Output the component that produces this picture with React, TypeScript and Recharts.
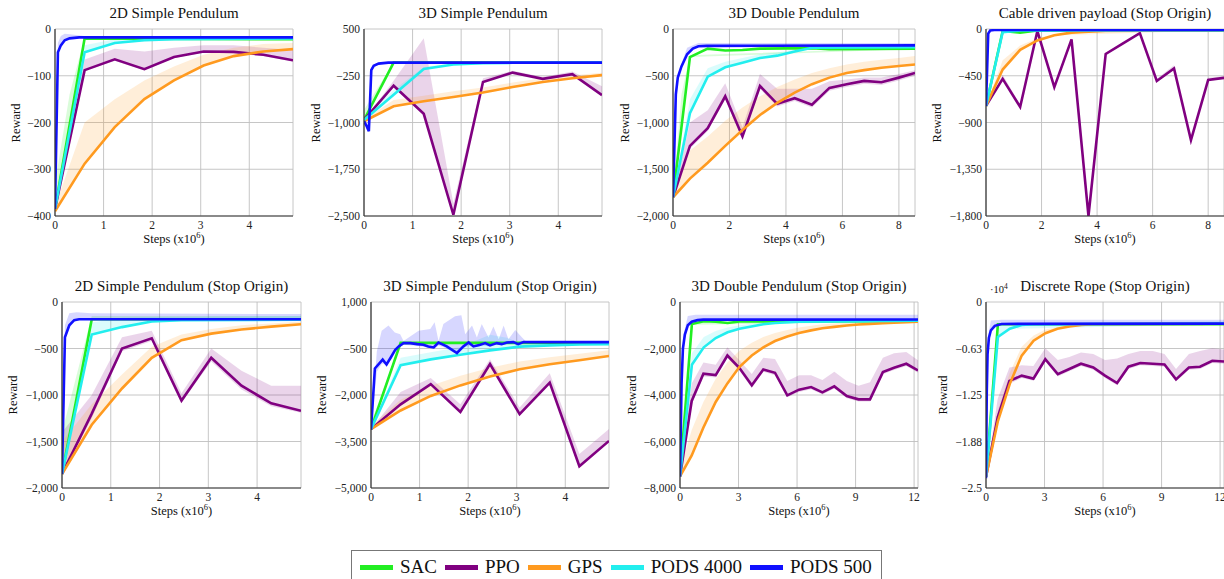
import React from "react";
import { ComposedChart, Line, Area, XAxis, YAxis, CartesianGrid } from "recharts";

type Pt = [number, number];
type Bd = [number, number, number];

const SERIES = ["SAC", "PPO", "GPS", "PODS 4000", "PODS 500"];
const COLORS = ["#22ee22", "#800080", "#ff9a1f", "#22eeee", "#1010ff"];
const FONT = "'Liberation Serif', 'DejaVu Serif', serif";

// ---------- 2D Simple Pendulum ----------
const P1_SAC: Pt[] = [[0, -385], [0.61, -20], [4.9, -22]];
const P1_SAC_BAND: Bd[] = [[0, -385, -330], [0.3, -220, -140], [0.61, -22, -18], [4.9, -24, -20]];
const P1_PPO: Pt[] = [[0, -385], [0.61, -88], [1.23, -65], [1.84, -86], [2.45, -60], [3.06, -48], [3.68, -49], [4.29, -55], [4.9, -67]];
const P1_PPO_BAND: Bd[] = [[0, -385, -385], [0.61, -90, -65], [1.23, -68, -42], [1.84, -88, -48], [2.45, -62, -40], [3.06, -50, -35], [3.68, -52, -35], [4.29, -58, -40], [4.9, -70, -45]];
const P1_GPS: Pt[] = [[0, -390], [0.61, -288], [1.23, -210], [1.84, -150], [2.45, -110], [3.06, -78], [3.68, -58], [4.29, -48], [4.9, -43]];
const P1_GPS_BAND: Bd[] = [[0, -390, -380], [0.61, -288, -200], [1.23, -210, -150], [1.84, -150, -110], [2.45, -110, -80], [3.06, -78, -55], [3.68, -58, -40], [4.29, -48, -32], [4.9, -43, -30]];
const P1_P4000: Pt[] = [[0, -385], [0.61, -50], [1.23, -30], [1.84, -24], [2.45, -22], [4.9, -20]];
const P1_P4000_BAND: Bd[] = [[0, -385, -385], [0.61, -50, -35], [1.23, -30, -22], [1.84, -24, -20], [4.9, -21, -18]];
const P1_P500: Pt[] = [[0, -385], [0.06, -50], [0.12, -35], [0.2, -24], [0.3, -20], [0.5, -18], [4.9, -18]];
const P1_P500_BAND: Bd[] = [[0, -385, -385], [0.06, -50, -30], [0.12, -35, -15], [0.2, -24, -10], [0.35, -20, -12], [0.6, -18, -15], [4.9, -18, -15]];

// ---------- 3D Simple Pendulum ----------
const P2_SAC: Pt[] = [[0, -960], [0.61, -40], [4.9, -40]];
const P2_SAC_BAND: Bd[] = [[0, -960, -800], [0.61, -45, -35], [4.9, -42, -38]];
const P2_PPO: Pt[] = [[0, -960], [0.61, -410], [1.23, -860], [1.84, -2480], [2.45, -350], [3.06, -200], [3.68, -300], [4.29, -225], [4.9, -560]];
const P2_PPO_BAND: Bd[] = [[0, -960, -960], [0.61, -420, -330], [1.23, -880, 350], [1.84, -2480, -2300], [2.45, -360, -290], [3.06, -210, -170], [3.68, -310, -270], [4.29, -235, -180], [4.9, -570, -420]];
const P2_GPS: Pt[] = [[0, -980], [0.61, -740], [1.23, -660], [1.84, -590], [2.45, -520], [3.06, -430], [3.68, -350], [4.29, -290], [4.9, -240]];
const P2_GPS_BAND: Bd[] = [[0, -980, -950], [0.61, -740, -640], [1.23, -660, -570], [1.84, -590, -500], [2.45, -520, -440], [3.06, -430, -360], [3.68, -350, -290], [4.29, -290, -240], [4.9, -240, -200]];
const P2_P4000: Pt[] = [[0, -960], [0.61, -555], [1.23, -140], [1.84, -70], [2.45, -50], [3.06, -42], [4.9, -40]];
const P2_P4000_BAND: Bd[] = [[0, -960, -900], [0.61, -555, -480], [1.23, -140, -110], [1.84, -70, -55], [4.9, -42, -35]];
const P2_P500: Pt[] = [[0, -980], [0.05, -1050], [0.1, -1140], [0.15, -160], [0.2, -90], [0.3, -55], [0.5, -40], [4.9, -40]];

// ---------- 3D Double Pendulum ----------
const P3_SAC: Pt[] = [[0, -1800], [0.6, -300], [1.23, -210], [1.85, -230], [2.46, -225], [3.08, -210], [4.92, -205], [5.54, -215], [8.57, -210]];
const P3_SAC_BAND: Bd[] = [[0, -1800, -1800], [0.3, -1050, -700], [0.6, -300, -280], [8.57, -215, -200]];
const P3_PPO: Pt[] = [[0, -1800], [0.6, -1250], [1.23, -1060], [1.85, -720], [2.46, -1150], [3.08, -610], [3.69, -800], [4.31, -740], [4.92, -810], [5.54, -630], [6.15, -590], [6.77, -555], [7.38, -570], [8, -520], [8.57, -470]];
const P3_PPO_BAND: Bd[] = [[0, -1800, -1800], [0.6, -1280, -1000], [1.23, -1090, -870], [1.85, -750, -580], [2.46, -1180, -1050], [3.08, -640, -480], [3.69, -830, -640], [4.31, -770, -640], [4.92, -840, -640], [5.54, -660, -560], [6.15, -620, -540], [6.77, -585, -520], [7.38, -600, -520], [8, -550, -480], [8.57, -500, -440]];
const P3_GPS: Pt[] = [[0, -1800], [0.6, -1600], [1.23, -1430], [1.85, -1250], [2.46, -1080], [3.08, -920], [3.69, -790], [4.31, -680], [4.92, -590], [5.54, -520], [6.15, -470], [6.77, -440], [7.38, -415], [8, -395], [8.57, -380]];
const P3_GPS_BAND: Bd[] = [[0, -1800, -1800], [0.6, -1600, -1300], [1.23, -1430, -1150], [1.85, -1250, -980], [2.46, -1080, -840], [3.08, -920, -720], [3.69, -790, -620], [4.31, -680, -540], [4.92, -590, -470], [5.54, -520, -420], [6.15, -470, -380], [6.77, -440, -350], [7.38, -415, -330], [8, -395, -310], [8.57, -380, -290]];
const P3_P4000: Pt[] = [[0, -1800], [0.6, -900], [1.23, -510], [1.85, -410], [2.46, -360], [3.08, -310], [3.69, -285], [4.31, -240], [4.92, -200], [8.57, -195]];
const P3_P4000_BAND: Bd[] = [[0, -1800, -1800], [0.6, -900, -750], [1.23, -510, -420], [1.85, -410, -350], [2.46, -360, -310], [3.08, -310, -270], [3.69, -285, -250], [4.92, -205, -190], [8.57, -200, -185]];
const P3_P500: Pt[] = [[0, -1800], [0.1, -700], [0.17, -520], [0.3, -400], [0.5, -270], [0.7, -210], [0.9, -185], [1.2, -180], [8.57, -175]];
const P3_P500_BAND: Bd[] = [[0, -1800, -1800], [0.17, -520, -480], [0.5, -270, -200], [0.9, -190, -150], [8.57, -180, -150]];

// ---------- Cable driven payload (Stop Origin) ----------
const P4_SAC: Pt[] = [[0, -740], [0.6, -20], [1.23, -35], [1.85, -15], [8.57, -15]];
const P4_PPO: Pt[] = [[0, -740], [0.6, -480], [1.23, -750], [1.85, -20], [2.46, -560], [3.08, -100], [3.69, -1800], [4.31, -240], [4.92, -140], [5.54, -40], [6.15, -500], [6.77, -380], [7.38, -1070], [8, -490], [8.57, -470]];
const P4_PPO_BAND: Bd[] = [[0, -740, -740], [0.6, -490, -440], [1.23, -760, -730], [1.85, -30, -10], [2.46, -570, -540], [3.08, -110, -90], [3.69, -1800, -1780], [4.31, -250, -230], [5.54, -50, -30], [6.15, -510, -480], [6.77, -390, -350], [7.38, -1080, -1050], [8, -500, -470], [8.57, -480, -455]];
const P4_GPS: Pt[] = [[0, -740], [0.6, -390], [1.23, -200], [1.85, -110], [2.46, -60], [3.08, -35], [3.69, -25], [4.31, -18], [8.57, -12]];
const P4_GPS_BAND: Bd[] = [[0, -740, -740], [0.6, -390, -300], [1.23, -200, -160], [1.85, -110, -90], [2.46, -60, -50], [8.57, -12, -10]];
const P4_P4000: Pt[] = [[0, -740], [0.6, -30], [1.23, -15], [8.57, -12]];
const P4_P500: Pt[] = [[0, -740], [0.08, -45], [0.15, -15], [0.3, -10], [8.57, -10]];

// ---------- 2D Simple Pendulum (Stop Origin) ----------
const P5_SAC: Pt[] = [[0, -1850], [0.61, -185], [4.9, -185]];
const P5_SAC_BAND: Bd[] = [[0, -1850, -1400], [0.61, -190, -150], [4.9, -190, -150]];
const P5_PPO: Pt[] = [[0, -1850], [0.61, -1200], [1.23, -500], [1.84, -390], [2.45, -1060], [3.06, -600], [3.68, -900], [4.29, -1090], [4.9, -1170]];
const P5_PPO_BAND: Bd[] = [[0, -1850, -1400], [0.61, -1250, -1000], [1.23, -530, -380], [1.84, -420, -310], [2.45, -1080, -980], [3.06, -640, -500], [3.68, -940, -740], [4.29, -1120, -900], [4.9, -1190, -900]];
const P5_GPS: Pt[] = [[0, -1850], [0.61, -1320], [1.23, -930], [1.84, -600], [2.45, -410], [3.06, -340], [3.68, -295], [4.29, -265], [4.9, -240]];
const P5_GPS_BAND: Bd[] = [[0, -1850, -1500], [0.61, -1320, -1100], [1.23, -930, -780], [1.84, -600, -480], [2.45, -410, -350], [3.06, -340, -290], [3.68, -295, -250], [4.29, -265, -230], [4.9, -240, -210]];
const P5_P4000: Pt[] = [[0, -1850], [0.61, -350], [1.23, -270], [1.84, -210], [2.45, -195], [4.9, -190]];
const P5_P4000_BAND: Bd[] = [[0, -1850, -1850], [0.61, -350, -220], [1.23, -270, -170], [1.84, -210, -160], [4.9, -190, -150]];
const P5_P500: Pt[] = [[0, -1850], [0.06, -380], [0.15, -250], [0.25, -195], [0.35, -185], [4.9, -185]];
const P5_P500_BAND: Bd[] = [[0, -1850, -1850], [0.06, -380, -250], [0.15, -250, -120], [0.3, -190, -110], [0.6, -185, -120], [4.9, -185, -130]];

// ---------- 3D Simple Pendulum (Stop Origin) ----------
const P6_SAC: Pt[] = [[0, -3100], [0.61, -320], [4.9, -320]];
const P6_SAC_BAND: Bd[] = [[0, -3100, -2900], [0.61, -330, -300], [4.9, -330, -310]];
const P6_PPO: Pt[] = [[0, -3100], [0.61, -2300], [1.23, -1650], [1.84, -2550], [2.45, -1000], [3.06, -2620], [3.68, -1600], [4.29, -4300], [4.9, -3480]];
const P6_PPO_BAND: Bd[] = [[0, -3100, -3100], [0.61, -2350, -1900], [1.23, -1700, -1450], [1.84, -2600, -2300], [2.45, -1050, -850], [3.06, -2670, -2400], [3.68, -1650, -1300], [4.29, -4350, -3900], [4.9, -3530, -3100]];
const P6_GPS: Pt[] = [[0, -3100], [0.61, -2500], [1.23, -2030], [1.84, -1690], [2.45, -1400], [3.06, -1170], [3.68, -1010], [4.29, -880], [4.9, -740]];
const P6_GPS_BAND: Bd[] = [[0, -3100, -3000], [0.61, -2500, -2150], [1.23, -2030, -1700], [1.84, -1690, -1380], [2.45, -1400, -1120], [3.06, -1170, -920], [3.68, -1010, -780], [4.29, -880, -670], [4.9, -740, -560]];
const P6_P4000: Pt[] = [[0, -3100], [0.61, -1040], [1.23, -850], [1.84, -700], [2.45, -560], [3.06, -440], [3.68, -400], [4.29, -370], [4.9, -360]];
const P6_P4000_BAND: Bd[] = [[0, -3100, -3100], [0.61, -1040, -800], [1.23, -850, -620], [1.84, -700, -450], [2.45, -560, -60], [2.8, -480, -150], [3.06, -440, -330], [4.9, -360, -320]];
const P6_P500: Pt[] = [[0, -3120], [0.08, -1144], [0.24, -858], [0.32, -1017], [0.41, -783], [0.5, -539], [0.57, -433], [0.67, -327], [0.81, -327], [0.95, -359], [1.08, -380], [1.18, -433], [1.29, -465], [1.39, -306], [1.56, -433], [1.77, -645], [1.9, -433], [2.01, -306], [2.11, -433], [2.25, -380], [2.35, -327], [2.45, -401], [2.59, -327], [2.69, -359], [2.8, -306], [2.93, -295], [3.03, -359], [3.14, -295], [4.9, -295]];
const P6_P500_BAND: Bd[] = [[0, -3120, -3120], [0.12, -1250, -588], [0.22, -1000, 73], [0.36, -950, 239], [0.49, -650, 18], [0.6, -450, -37], [0.67, -380, -257], [0.98, -420, 73], [1.22, -480, 128], [1.31, -500, 349], [1.39, -400, -257], [1.49, -450, 294], [1.73, -650, 537], [1.86, -560, 570], [1.94, -450, -37], [2.08, -400, 239], [2.18, -460, -147], [2.28, -400, 294], [2.42, -430, -147], [2.52, -380, 206], [2.63, -390, -200], [2.73, -380, 239], [2.83, -340, -200], [2.97, -340, 96], [3.11, -340, -147], [3.2, -320, -280], [4.9, -310, -280]];

// ---------- 3D Double Pendulum (Stop Origin) ----------
const P7_SAC: Pt[] = [[0, -7500], [0.61, -950], [1.22, -830], [1.83, -850], [2.44, -900], [3.05, -840], [11, -830]];
const P7_SAC_BAND: Bd[] = [[0, -7500, -7000], [0.61, -980, -900], [11, -860, -800]];
const P7_PPO: Pt[] = [[0, -7500], [0.6, -4257], [1.2, -3086], [1.83, -3143], [2.43, -2300], [3.04, -2829], [3.68, -3586], [4.27, -2900], [4.87, -3043], [5.5, -4014], [6.1, -3771], [6.72, -3657], [7.3, -3886], [7.91, -3629], [8.55, -4043], [9.15, -4186], [9.74, -4186], [10.4, -3014], [10.97, -2829], [11.6, -2657], [12.2, -2943]];
const P7_PPO_BAND: Bd[] = [[0, -7500, -7500], [0.6, -4400, -3500], [1.2, -3200, -2600], [1.83, -3250, -2700], [2.43, -2400, -1950], [3.04, -2950, -2500], [3.68, -3700, -3100], [4.27, -3000, -2400], [4.87, -3150, -2450], [5.5, -4100, -3400], [6.1, -3870, -3150], [6.72, -3750, -3150], [7.3, -3980, -3350], [7.91, -3720, -3000], [8.55, -4140, -3400], [9.15, -4280, -3600], [9.74, -4280, -3450], [10.4, -3110, -2400], [10.97, -2920, -2200], [11.6, -2750, -2150], [12.2, -3040, -2500]];
const P7_GPS: Pt[] = [[0, -7500], [0.6, -6600], [1.2, -5400], [1.83, -4300], [2.43, -3500], [3.04, -2800], [3.68, -2300], [4.27, -1950], [4.87, -1680], [5.5, -1480], [6.1, -1330], [6.72, -1220], [7.3, -1130], [7.91, -1070], [8.55, -1010], [9.15, -970], [9.74, -940], [10.4, -910], [10.97, -890], [11.6, -870], [12.2, -850]];
const P7_GPS_BAND: Bd[] = [[0, -7500, -7200], [0.6, -6600, -5500], [1.2, -5400, -4300], [1.83, -4300, -3300], [2.43, -3500, -2600], [3.04, -2800, -2100], [3.68, -2300, -1750], [4.27, -1950, -1500], [4.87, -1680, -1330], [5.5, -1480, -1200], [6.1, -1330, -1100], [6.72, -1220, -1020], [7.3, -1130, -960], [7.91, -1070, -920], [8.55, -1010, -890], [9.15, -970, -870], [9.74, -940, -850], [10.4, -910, -830], [10.97, -890, -820], [11.6, -870, -810], [12.2, -850, -800]];
const P7_P4000: Pt[] = [[0, -7500], [0.61, -2700], [1.22, -1950], [1.83, -1550], [2.44, -1300], [3.05, -1150], [3.66, -1050], [4.27, -960], [4.88, -900], [6.1, -850], [12.2, -800]];
const P7_P4000_BAND: Bd[] = [[0, -7500, -7500], [0.61, -2700, -2200], [1.22, -1950, -1500], [1.83, -1550, -1250], [2.44, -1300, -1100], [3.05, -1150, -1000], [4.88, -900, -850], [12.2, -800, -780]];
const P7_P500: Pt[] = [[0, -7500], [0.08, -3500], [0.15, -2000], [0.25, -1400], [0.4, -1000], [0.6, -850], [0.9, -780], [1.2, -760], [12.2, -750]];
const P7_P500_BAND: Bd[] = [[0, -7500, -7500], [0.15, -2000, -1500], [0.4, -1000, -600], [0.8, -790, -550], [12.2, -760, -550]];

// ---------- Discrete Rope (Stop Origin), x10^4 ----------
const P8_SAC: Pt[] = [[0, -2.35], [0.61, -0.3], [12.2, -0.3]];
const P8_PPO: Pt[] = [[0, -2.35], [0.6, -1.55], [1.2, -1.06], [1.83, -0.99], [2.43, -1.03], [3.04, -0.77], [3.68, -0.97], [4.27, -0.9], [4.87, -0.83], [5.5, -0.88], [6.1, -0.99], [6.72, -1.09], [7.3, -0.87], [7.91, -0.82], [8.55, -0.83], [9.15, -0.84], [9.74, -1.04], [10.4, -0.88], [10.97, -0.87], [11.6, -0.79], [12.2, -0.8]];
const P8_PPO_BAND: Bd[] = [[0, -2.35, -2.35], [0.6, -1.6, -1.3], [1.2, -1.1, -0.88], [1.83, -1.02, -0.85], [2.43, -1.06, -0.86], [3.04, -0.8, -0.62], [3.68, -1.0, -0.78], [4.27, -0.93, -0.74], [4.87, -0.86, -0.68], [5.5, -0.91, -0.7], [6.1, -1.02, -0.78], [6.72, -1.12, -0.76], [7.3, -0.9, -0.7], [7.91, -0.85, -0.66], [8.55, -0.86, -0.66], [9.15, -0.87, -0.7], [9.74, -1.07, -0.9], [10.4, -0.91, -0.7], [10.97, -0.9, -0.66], [11.6, -0.82, -0.62], [12.2, -0.83, -0.64]];
const P8_GPS: Pt[] = [[0, -2.35], [0.61, -1.6], [1.22, -1.1], [1.83, -0.72], [2.44, -0.52], [3.05, -0.42], [3.66, -0.36], [4.27, -0.33], [4.88, -0.31], [5.49, -0.3], [12.2, -0.29]];
const P8_GPS_BAND: Bd[] = [[0, -2.35, -2.35], [0.61, -1.6, -1.45], [1.22, -1.1, -0.95], [1.83, -0.72, -0.6], [2.44, -0.52, -0.45], [3.05, -0.42, -0.37], [4.27, -0.33, -0.31], [12.2, -0.29, -0.28]];
const P8_P4000: Pt[] = [[0, -2.35], [0.61, -0.47], [1.22, -0.36], [1.83, -0.31], [2.44, -0.3], [12.2, -0.29]];
const P8_P4000_BAND: Bd[] = [[0, -2.35, -2.35], [0.61, -0.47, -0.32], [1.22, -0.36, -0.29], [12.2, -0.3, -0.26]];
const P8_P500: Pt[] = [[0, -2.37], [0.04, -1.2], [0.08, -0.7], [0.15, -0.48], [0.25, -0.38], [0.45, -0.32], [0.8, -0.295], [12.2, -0.29]];
const P8_P500_BAND: Bd[] = [[0, -2.37, -2.37], [0.08, -0.7, -0.5], [0.25, -0.38, -0.25], [0.8, -0.3, -0.24], [12.2, -0.3, -0.24]];

// ---------- ticks ----------
const X_TICKS_5 = [0, 1, 2, 3, 4];
const X_TICKS_8 = [0, 2, 4, 6, 8];
const X_TICKS_12 = [0, 3, 6, 9, 12];
const Y_TICKS_P1 = [-400, -300, -200, -100, 0];
const Y_TICKS_P2 = [-2500, -1750, -1000, -250, 500];
const Y_TICKS_P3 = [-2000, -1500, -1000, -500, 0];
const Y_TICKS_P4 = [-1800, -1350, -900, -450, 0];
const Y_TICKS_P5 = [-2000, -1500, -1000, -500, 0];
const Y_TICKS_P6 = [-5000, -3500, -2000, -500, 1000];
const Y_TICKS_P7 = [-8000, -6000, -4000, -2000, 0];
const Y_TICKS_P8 = [-2.5, -1.875, -1.25, -0.625, 0];
const Y_LABELS_P8 = ["\u22122.5", "\u22121.88", "\u22121.25", "\u22120.63", "0"];

interface PanelCfg {
  title: string;
  x0: number; x1: number; y0: number; y1: number;
  xMax: number;
  xTicks: number[];
  yTicks: number[];
  yLabels?: string[];
  rewardX: number;
  lines: (Pt[] | null)[];
  bands: (Bd[] | null)[];
}

const PANELS: PanelCfg[] = [
  { title: "2D Simple Pendulum", x0: 55, x1: 293, y0: 29, y1: 216, xMax: 4.9, xTicks: X_TICKS_5, yTicks: Y_TICKS_P1, rewardX: 16,
    lines: [P1_SAC, P1_PPO, P1_GPS, P1_P4000, P1_P500], bands: [P1_SAC_BAND, P1_PPO_BAND, P1_GPS_BAND, P1_P4000_BAND, P1_P500_BAND] },
  { title: "3D Simple Pendulum", x0: 364, x1: 602, y0: 29, y1: 216, xMax: 4.9, xTicks: X_TICKS_5, yTicks: Y_TICKS_P2, rewardX: 316,
    lines: [P2_SAC, P2_PPO, P2_GPS, P2_P4000, P2_P500], bands: [P2_SAC_BAND, P2_PPO_BAND, P2_GPS_BAND, P2_P4000_BAND, null] },
  { title: "3D Double Pendulum", x0: 673, x1: 915, y0: 29, y1: 216, xMax: 8.57, xTicks: X_TICKS_8, yTicks: Y_TICKS_P3, rewardX: 625,
    lines: [P3_SAC, P3_PPO, P3_GPS, P3_P4000, P3_P500], bands: [P3_SAC_BAND, P3_PPO_BAND, P3_GPS_BAND, P3_P4000_BAND, P3_P500_BAND] },
  { title: "Cable driven payload (Stop Origin)", x0: 986, x1: 1224, y0: 29, y1: 216, xMax: 8.57, xTicks: X_TICKS_8, yTicks: Y_TICKS_P4, rewardX: 937,
    lines: [P4_SAC, P4_PPO, P4_GPS, P4_P4000, P4_P500], bands: [null, P4_PPO_BAND, P4_GPS_BAND, null, null] },
  { title: "2D Simple Pendulum (Stop Origin)", x0: 62, x1: 301, y0: 302, y1: 488, xMax: 4.9, xTicks: X_TICKS_5, yTicks: Y_TICKS_P5, rewardX: 13,
    lines: [P5_SAC, P5_PPO, P5_GPS, P5_P4000, P5_P500], bands: [P5_SAC_BAND, P5_PPO_BAND, P5_GPS_BAND, P5_P4000_BAND, P5_P500_BAND] },
  { title: "3D Simple Pendulum (Stop Origin)", x0: 371, x1: 609, y0: 302, y1: 488, xMax: 4.9, xTicks: X_TICKS_5, yTicks: Y_TICKS_P6, rewardX: 322,
    lines: [P6_SAC, P6_PPO, P6_GPS, P6_P4000, P6_P500], bands: [P6_SAC_BAND, P6_PPO_BAND, P6_GPS_BAND, P6_P4000_BAND, P6_P500_BAND] },
  { title: "3D Double Pendulum (Stop Origin)", x0: 680, x1: 918, y0: 302, y1: 488, xMax: 12.2, xTicks: X_TICKS_12, yTicks: Y_TICKS_P7, rewardX: 632,
    lines: [P7_SAC, P7_PPO, P7_GPS, P7_P4000, P7_P500], bands: [P7_SAC_BAND, P7_PPO_BAND, P7_GPS_BAND, P7_P4000_BAND, P7_P500_BAND] },
  { title: "Discrete Rope (Stop Origin)", x0: 986, x1: 1224, y0: 302, y1: 488, xMax: 12.2, xTicks: X_TICKS_12, yTicks: Y_TICKS_P8, yLabels: Y_LABELS_P8, rewardX: 943,
    lines: [P8_SAC, P8_PPO, P8_GPS, P8_P4000, P8_P500], bands: [null, P8_PPO_BAND, P8_GPS_BAND, P8_P4000_BAND, P8_P500_BAND] },
];

const fmt = (v: number) => {
  if (v === 0) return "0";
  const s = Math.abs(v).toLocaleString("en-US");
  return v < 0 ? "\u2212" + s : s;
};

const tickStyle = { fontSize: 11.5, fill: "#222", fontFamily: FONT };

function Panel({ cfg }: { cfg: PanelCfg }) {
  const w = cfg.x1 - cfg.x0;
  const h = cfg.y1 - cfg.y0;
  const yMin = cfg.yTicks[0];
  const yMax = cfg.yTicks[cfg.yTicks.length - 1];
  const yFmt = (v: number) => {
    if (cfg.yLabels) {
      const i = cfg.yTicks.indexOf(v);
      return i >= 0 ? cfg.yLabels[i] : fmt(v);
    }
    return fmt(v);
  };
  return (
    <>
      <div style={{ position: "absolute", left: cfg.x0 - 30, width: w + 60, top: cfg.y0 - 24, textAlign: "center", fontSize: 15, lineHeight: "17px", whiteSpace: "nowrap" }}>
        {cfg.title}
      </div>
      <div style={{ position: "absolute", left: cfg.x0, width: w, top: cfg.y1 + 16, textAlign: "center", fontSize: 12.5, lineHeight: "15px" }}>
        Steps (x10<span style={{ fontSize: 8.5, position: "relative", top: -5 }}>6</span>)
      </div>
      <div style={{ position: "absolute", left: cfg.rewardX, top: (cfg.y0 + cfg.y1) / 2, transform: "translate(-50%, -50%) rotate(-90deg)", fontSize: 12.5, lineHeight: "15px" }}>
        Reward
      </div>
      <div style={{ position: "absolute", left: cfg.x0 - 50, top: cfg.y0 - 10 }}>
        <ComposedChart width={w + 52} height={h + 35} margin={{ top: 10, right: 2, left: 0, bottom: 0 }}>
          <CartesianGrid stroke="#c0c0c0" strokeWidth={0.9} />
          <XAxis type="number" dataKey="x" domain={[0, cfg.xMax]} ticks={cfg.xTicks} interval={0} allowDataOverflow
            height={25} tickLine={false} tickSize={3} axisLine={{ stroke: "#333", strokeWidth: 1.2 }} tick={tickStyle} />
          <YAxis type="number" domain={[yMin, yMax]} ticks={cfg.yTicks} interval={0} allowDataOverflow
            width={50} tickLine={false} tickSize={2} axisLine={{ stroke: "#333", strokeWidth: 1.2 }} tick={tickStyle} tickFormatter={yFmt} />
          {cfg.bands.map((b, i) =>
            b ? (
              <Area key={"b" + i} data={b.map(([x, lo, hi]) => ({ x, r: [lo, hi] }))} dataKey="r" type="linear"
                stroke="none" fill={COLORS[i]} fillOpacity={0.17} isAnimationActive={false} dot={false} activeDot={false} />
            ) : null
          )}
          {cfg.lines.map((l, i) =>
            l ? (
              <Line key={"l" + i} data={l.map(([x, y]) => ({ x, y }))} dataKey="y" type="linear" stroke={COLORS[i]}
                strokeWidth={2.6} dot={false} activeDot={false} isAnimationActive={false} />
            ) : null
          )}
        </ComposedChart>
      </div>
    </>
  );
}

export default function App() {
  return (
    <div style={{ position: "absolute", left: 0, top: 0, width: 1224, height: 579, overflow: "hidden", background: "#fff", fontFamily: FONT, color: "#111" }}>
      {PANELS.map((p, i) => (
        <Panel key={i} cfg={p} />
      ))}
      <div style={{ position: "absolute", left: 990, top: 284, fontSize: 10.5 }}>
        ·10<span style={{ fontSize: 7.5, position: "relative", top: -4 }}>4</span>
      </div>
      <div style={{ position: "absolute", left: 351, top: 550, width: 531, height: 34, border: "1px solid #777", boxSizing: "border-box", display: "flex", alignItems: "center", paddingLeft: 8 }}>
        {SERIES.map((s, i) => (
          <div key={s} style={{ display: "flex", alignItems: "center", marginRight: 8 }}>
            <span style={{ display: "inline-block", width: 33, height: 5, background: COLORS[i], marginRight: 7 }} />
            <span style={{ fontSize: 19, lineHeight: "22px" }}>{s}</span>
          </div>
        ))}
      </div>
    </div>
  );
}
